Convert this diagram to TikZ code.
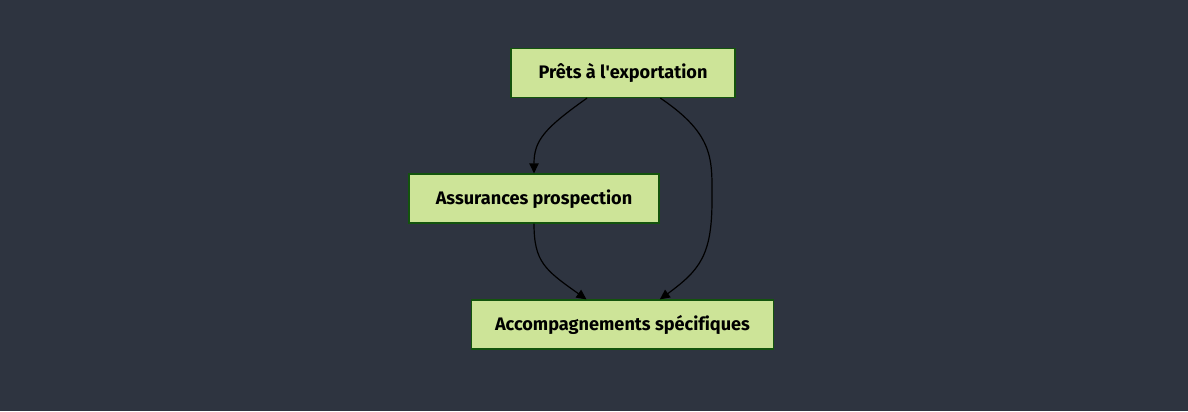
\documentclass[tikz,border=0pt]{standalone}
\usepackage{fontspec}
\setmainfont{Fira Sans}[Ligatures=NoCommon]
\usetikzlibrary{positioning,arrows.meta,calc}
\definecolor{bgslate}{HTML}{2E3440}
\definecolor{boxfill}{HTML}{CDE498}
\definecolor{boxline}{HTML}{13540C}

\begin{document}
\begin{tikzpicture}[x=0.75pt, y=-0.75pt,
    stepBox/.style={rectangle, draw=boxline, fill=boxfill, line width=0.9pt, minimum height=36.75pt, inner xsep=0pt, text height=1.75ex, text depth=0.15ex, font=\bfseries\fontsize{13.6}{16}\selectfont, text=black},
    flowArrow/.style={-{Triangle[length=7.5pt,width=7pt]}, line width=0.9pt, draw=black}
]
    \fill[bgslate] (0,0) rectangle (1188,411);
    \useasboundingbox (0,0) rectangle (1188,411);

    \node[stepBox, minimum width=168pt] (prets) at (623, 73) {Prêts à l\textquotesingle exportation};
    \node[stepBox, minimum width=187.5pt] (assur) at (534, 198.5) {Assurances prospection};
    \node[stepBox, minimum width=227pt] (accomp) at (622.5, 324.5) {Accompagnements spécifiques};

    \draw[flowArrow] ([xshift=-27pt]prets.south) .. controls (545,128) and (534,140) .. (assur.north);
    \draw[flowArrow] ([xshift=28pt]prets.south) .. controls (715,135) and (712,160) .. (712,200)
        .. controls (712,255) and (700,270) .. ([xshift=28pt]accomp.north);
    \draw[flowArrow] (assur.south) .. controls (534,262) and (545,270) .. ([xshift=-27pt]accomp.north);
\end{tikzpicture}
\end{document}
